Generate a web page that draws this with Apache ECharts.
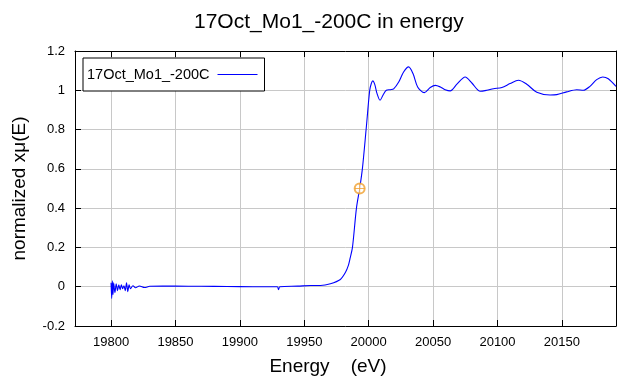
<!DOCTYPE html>
<html>
<head>
<meta charset="utf-8">
<script src="https://cdn.jsdelivr.net/npm/echarts@6/dist/echarts.min.js"></script>
<style>
  html, body { margin: 0; padding: 0; background: #fff; }
  #chart { width: 640px; height: 384px; }
</style>
</head>
<body>
<div id="chart"></div>
<script>
// 能量 (eV)
const energy = [
    19800, 19800.5, 19801, 19801.5, 19802, 19803, 19804, 19805, 19806, 19807,
    19808, 19809, 19810, 19811, 19812, 19813, 19814, 19815, 19817, 19819,
    19822, 19826, 19830, 19840, 19850, 19870, 19890, 19910, 19929, 19930,
    19931, 19945, 19955, 19962.6, 19970.3, 19978, 19981.9, 19984.3, 19985.6, 19987.4,
    19990.5, 19993, 19995.1, 19998, 20000.8, 20002.1, 20003.2, 20004.7, 20006.5,
    20008.8, 20011.1, 20013.7, 20016.8, 20019.4, 20023.3, 20027.1, 20031, 20034.4, 20038,
    20043.2, 20047.8, 20051.7, 20055.6, 20059.4, 20063.3, 20068.5, 20074.9, 20080.1, 20086.6,
    20091.7, 20096.9, 20103.4, 20109.8, 20116.3, 20122.7, 20130.5, 20140.8, 20146, 20153.7,
    20161.5, 20166.7, 20171.8, 20177, 20181.7, 20186, 20192
];

// 归一化吸收 xμ(E)
const muNorm = [
    0.02, -0.06, 0.03, -0.04, 0.02, -0.03, 0.015, -0.02, 0.01, -0.015,
    0.01, -0.01, 0.005, -0.02, 0.02, -0.025, 0.01, -0.01, 0.005, -0.005,
    0.004, -0.004, 0.002, 0.003, 0.003, 0.002, 0.001, 0.0, 0.0, -0.015,
    0.0, 0.003, 0.006, 0.006, 0.015, 0.037, 0.072, 0.11, 0.145, 0.2,
    0.4, 0.5, 0.6, 0.8, 1.0, 1.036, 1.048, 1.03, 0.983,
    0.949, 0.975, 1.0, 1.003, 1.007, 1.042, 1.093, 1.119, 1.085, 1.017,
    0.988, 1.014, 1.025, 1.017, 1.003, 0.997, 1.031, 1.068, 1.037, 0.995,
    1.0, 1.008, 1.014, 1.034, 1.051, 1.031, 0.99, 0.976, 0.978, 0.992,
    1.003, 1.0, 1.02, 1.054, 1.068, 1.059, 1.02
];

// E0 标记点
const e0Point = [[19993, 0.5]];

// 刻度
const xTicks = [19800, 19850, 19900, 19950, 20000, 20050, 20100, 20150];
const xMin = 19772;
const xMax = 20192;

const FONT = 'Liberation Sans';
const ORANGE = '#f0a030';

const chart = echarts.init(document.getElementById('chart'));

const lineData = energy.map((e, i) => [e, muNorm[i]]);

const baseX = {
    type: 'value',
    min: xMin,
    max: xMax,
    axisLine: { show: true, onZero: false, lineStyle: { color: '#000', width: 1 } },
    axisTick: { show: true, inside: true, length: 6, customValues: xTicks, lineStyle: { color: '#000' } },
    axisLabel: {
        customValues: xTicks, color: '#000', fontFamily: FONT, fontSize: 13, margin: 10,
        formatter: v => String(v)
    },
    splitLine: { show: true, lineStyle: { color: '#c8c8c8', width: 1 } }
};

const baseY = {
    type: 'value',
    min: -0.2,
    max: 1.2,
    interval: 0.2,
    axisLine: { show: true, onZero: false, lineStyle: { color: '#000', width: 1 } },
    axisTick: { show: true, inside: true, length: 6, lineStyle: { color: '#000' } },
    axisLabel: {
        color: '#000', fontFamily: FONT, fontSize: 13, margin: 10,
        formatter: v => String(Math.round(v * 10) / 10)
    },
    splitLine: { show: true, lineStyle: { color: '#c8c8c8', width: 1 } }
};

chart.setOption({
    animation: false,
    backgroundColor: '#fff',
    title: {
        text: '17Oct_Mo1_-200C in energy',
        left: 189,
        top: 7,
        textStyle: { fontFamily: FONT, fontSize: 21, fontWeight: 'normal', color: '#000' }
    },
    legend: {
        data: ['17Oct_Mo1_-200C'],
        left: 83,
        top: 58,
        align: 'right',
        orient: 'vertical',
        icon: 'rect',
        backgroundColor: '#fff',
        borderColor: '#000',
        borderWidth: 1,
        borderRadius: 0,
        padding: [9, 7, 9, 4],
        itemWidth: 40,
        itemHeight: 1,
        itemGap: 0,
        textStyle: { fontFamily: FONT, fontSize: 14.5, color: '#000', padding: [0, 3, 0, 0] }
    },
    grid: { left: 75, right: 24, top: 51, bottom: 58, containLabel: false },
    xAxis: [
        Object.assign({}, baseX, {
            position: 'bottom',
            name: 'Energy    (eV)',
            nameLocation: 'middle',
            nameGap: 31,
            nameTextStyle: { fontFamily: FONT, fontSize: 19, color: '#000', padding: [0, 35, 0, 0] }
        }),
        Object.assign({}, baseX, {
            position: 'top',
            axisLabel: { show: false, customValues: xTicks },
            splitLine: { show: false }
        })
    ],
    yAxis: [
        Object.assign({}, baseY, {
            position: 'left',
            name: 'normalized xμ(E)',
            nameLocation: 'middle',
            nameGap: 46,
            nameTextStyle: { fontFamily: FONT, fontSize: 19, color: '#000' }
        }),
        Object.assign({}, baseY, {
            position: 'right',
            axisLabel: { show: false },
            splitLine: { show: false }
        })
    ],
    series: [
        {
            name: '17Oct_Mo1_-200C',
            type: 'line',
            data: lineData,
            symbol: 'none',
            smooth: 0.3,
            lineStyle: { color: '#0000ff', width: 1.1 },
            itemStyle: { color: '#0000ff' }
        },
        {
            name: 'E0',
            type: 'scatter',
            data: e0Point,
            symbol: 'emptyCircle',
            symbolSize: 10,
            itemStyle: { color: ORANGE, borderColor: ORANGE, borderWidth: 1 },
            z: 5
        },
        {
            name: 'E0 cross',
            type: 'scatter',
            data: e0Point,
            symbol: 'path://M5,0L5,10M0,5L10,5',
            symbolSize: 10,
            itemStyle: { color: 'none', borderColor: ORANGE, borderWidth: 1 },
            z: 5
        }
    ]
});
</script>
</body>
</html>
